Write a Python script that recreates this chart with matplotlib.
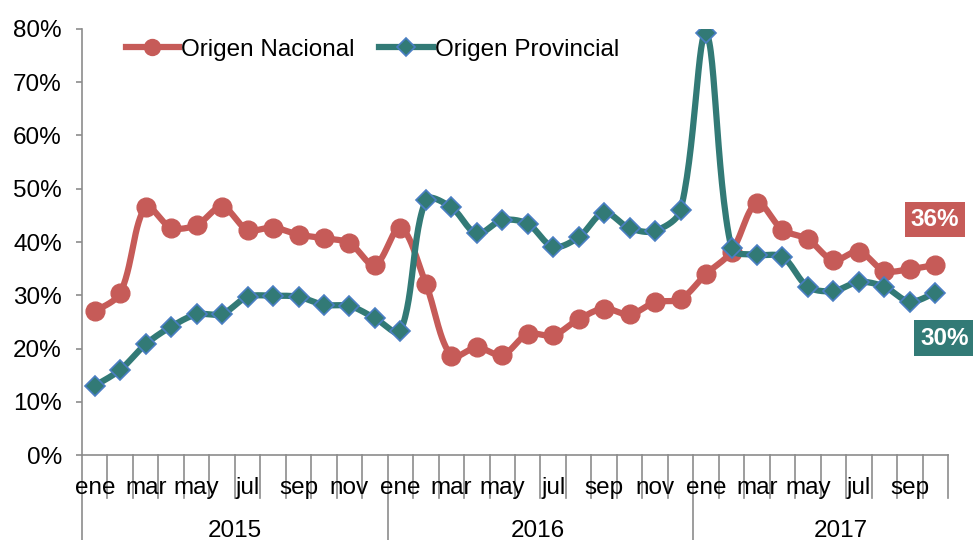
import numpy as np
import matplotlib
matplotlib.use('Agg')
import matplotlib.pyplot as plt
from matplotlib.ticker import FuncFormatter

plt.rcParams['font.family'] = ['Liberation Sans', 'DejaVu Sans']

# datos mensuales ene 2015 - oct 2017
meses = ['ene', 'feb', 'mar', 'abr', 'may', 'jun', 'jul', 'ago', 'sep', 'oct', 'nov', 'dic']
anios = ['2015', '2016', '2017']
n_meses = [12, 12, 10]

nacional = [27.0, 30.4, 46.6, 42.7, 43.2, 46.6, 42.3, 42.7, 41.4, 40.7, 39.8, 35.7,
            42.7, 32.1, 18.6, 20.2, 18.8, 22.7, 22.5, 25.5, 27.5, 26.4, 28.7, 29.3,
            34.0, 38.2, 47.3, 42.3, 40.5, 36.6, 38.2, 34.6, 34.9, 35.7]
provincial = [13.0, 16.0, 20.8, 24.1, 26.4, 26.5, 29.7, 29.9, 29.7, 28.2, 28.0, 25.7,
              23.2, 47.9, 46.5, 41.6, 44.1, 43.4, 39.1, 40.9, 45.5, 42.6, 42.1, 46.0,
              79.2, 38.8, 37.6, 37.2, 31.6, 30.8, 32.5, 31.6, 28.8, 30.5]

etiquetas = []
for a, n in zip(anios, n_meses):
    etiquetas += meses[:n]

rojo = '#C65B58'
verde = '#327A76'
azul = '#4A7EC4'
fs = 17.5

# escala aproximada en pixeles (1 mes, 1 punto porcentual)
SX, SY = 25.5, 5.33


def suavizar(y, pasos=30):
    # curva suavizada tipo Excel (Bezier con tangentes ponderadas por longitud)
    px = np.arange(len(y)) * SX
    py = np.asarray(y, dtype=float) * SY
    P = np.column_stack([px, py])
    P = np.vstack([P[0], P, P[-1]])
    out = []
    for i in range(len(y) - 1):
        p0, p1, p2, p3 = P[i], P[i + 1], P[i + 2], P[i + 3]
        d01 = np.linalg.norm(p1 - p0)
        d12 = np.linalg.norm(p2 - p1)
        d23 = np.linalg.norm(p3 - p2)
        f1 = d12 / (d01 + d12) if d01 > 0 else 0.5
        f2 = d12 / (d12 + d23) if d23 > 0 else 0.5
        c1 = p1 + (p2 - p0) * f1 / 3
        c2 = p2 - (p3 - p1) * f2 / 3
        t = np.linspace(0, 1, pasos, endpoint=(i == len(y) - 2))[:, None]
        out.append((1 - t)**3 * p1 + 3 * (1 - t)**2 * t * c1 + 3 * (1 - t) * t**2 * c2 + t**3 * p2)
    out = np.vstack(out)
    return out[:, 0] / SX, out[:, 1] / SY / 100


fig = plt.figure(figsize=(9.73, 5.40), dpi=100)
ax = fig.add_axes([0.0843, 0.1574, 0.8900, 0.7889])

x = np.arange(len(nacional))

xs, ys = suavizar(nacional)
ax.plot(xs, ys, color=rojo, lw=4.5, solid_capstyle='round', zorder=2)
ax.plot(x, np.array(nacional) / 100, 'o', color=rojo, ms=13.5, mec=rojo, zorder=3)

xs, ys = suavizar(provincial)
ax.plot(xs, ys, color=verde, lw=4.5, solid_capstyle='round', zorder=4)
ax.plot(x, np.array(provincial) / 100, 'D', color=verde, ms=10.5, mec=azul, mew=1.2, zorder=5)

# leyenda
h1, = ax.plot([], [], color=rojo, lw=4.5, marker='o', ms=11.5)
h2, = ax.plot([], [], color=verde, lw=4.5, marker='D', ms=9, mec=azul, mew=1.2)
fig.legend([h1, h2], ['Origen Nacional', 'Origen Provincial'], ncol=2, frameon=False,
           loc='upper left', bbox_to_anchor=(0.129, 0.928), fontsize=fs,
           handlelength=2.2, handletextpad=0.1, columnspacing=1.0,
           borderpad=0, borderaxespad=0)

ax.set_ylim(0, 0.8)
ax.set_xlim(-0.5, len(nacional) - 0.5)
ax.set_yticks(np.arange(0, 0.81, 0.1))
ax.yaxis.set_major_formatter(FuncFormatter(lambda v, p: f'{v * 100:.0f}%'))

gris = '#8C8C8C'
for s in ['top', 'right']:
    ax.spines[s].set_visible(False)
for s in ['left', 'bottom']:
    ax.spines[s].set_color(gris)
    ax.spines[s].set_linewidth(1.2)

ax.tick_params(axis='y', direction='out', length=4.5, width=1.2, color=gris,
               labelsize=fs, pad=10)

# etiquetas de meses cada dos
ax.set_xticks(x[::2])
ax.set_xticklabels(etiquetas[::2])
ax.tick_params(axis='x', which='major', length=0, labelsize=fs, pad=16)

# divisiones entre meses y entre años
limites = np.arange(-0.5, len(nacional), 1.0)
cortes = np.cumsum([0] + n_meses) - 0.5
tr = ax.get_xaxis_transform()
for b in limites:
    largo = -0.2 if b in cortes[:-1] else -0.101
    ax.plot([b, b], [0, largo], transform=tr, color=gris, lw=1.2, clip_on=False, zorder=1)

pos_anio = [5.5, 17.4, 29.3]
for a, px in zip(anios, pos_anio):
    ax.text(px, -0.178, a, transform=tr, ha='center', va='center', fontsize=fs)

# últimos valores
ax.annotate(f'{nacional[-1]:.0f}%', xy=(0.961, 0.594), xycoords='figure fraction',
            ha='center', va='center', fontsize=fs, fontweight='bold', color='white',
            bbox=dict(boxstyle='square,pad=0.25', fc=rojo, ec='none'))
ax.annotate(f'{provincial[-1]:.0f}%', xy=(0.971, 0.374), xycoords='figure fraction',
            ha='center', va='center', fontsize=fs, fontweight='bold', color='white',
            bbox=dict(boxstyle='square,pad=0.25', fc=verde, ec='none'))

fig.savefig('out.png', dpi=100)
